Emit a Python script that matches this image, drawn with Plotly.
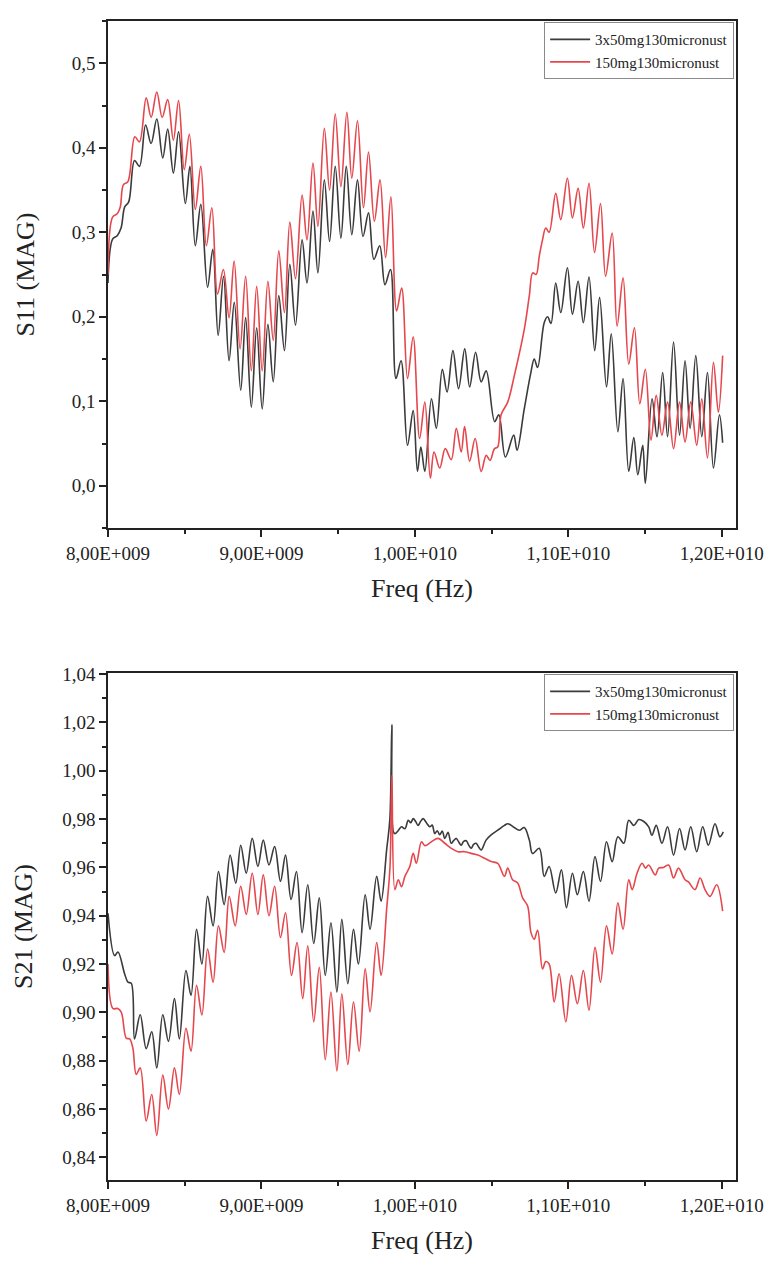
import plotly.graph_objects as go

# ---------------- data (frequency in GHz) ----------------
s11_black_f = [8.000, 8.030, 8.060, 8.085, 8.109, 8.135, 8.173, 8.205, 8.245, 8.281, 8.318, 8.357, 8.389, 8.426,
               8.460, 8.504, 8.534, 8.569, 8.605, 8.649, 8.683, 8.718, 8.753, 8.789, 8.823, 8.865, 8.897, 8.934,
               8.969, 9.005, 9.042, 9.077, 9.113, 9.150, 9.185, 9.222, 9.265, 9.297, 9.336, 9.368, 9.410, 9.444,
               9.481, 9.518, 9.553, 9.589, 9.626, 9.662, 9.698, 9.733, 9.771, 9.805, 9.841, 9.877, 9.910, 9.952,
               9.989, 10.017, 10.039, 10.065, 10.108, 10.140, 10.179, 10.210, 10.248, 10.285, 10.325, 10.357,
               10.396, 10.432, 10.465, 10.520, 10.547, 10.590, 10.644, 10.666, 10.713, 10.756, 10.778, 10.800,
               10.843, 10.865, 10.887, 10.918, 10.951, 10.994, 11.027, 11.064, 11.098, 11.135, 11.172, 11.204,
               11.249, 11.280, 11.323, 11.357, 11.394, 11.427, 11.453, 11.485, 11.502, 11.546, 11.578, 11.615,
               11.647, 11.686, 11.725, 11.761, 11.794, 11.831, 11.870, 11.907, 11.946, 11.985, 12.006]
s11_black_v = [0.240, 0.292, 0.296, 0.305, 0.330, 0.336, 0.385, 0.378, 0.427, 0.405, 0.434, 0.388, 0.422, 0.370,
               0.419, 0.334, 0.378, 0.284, 0.333, 0.235, 0.280, 0.178, 0.248, 0.148, 0.217, 0.113, 0.199, 0.093,
               0.187, 0.091, 0.191, 0.123, 0.225, 0.160, 0.262, 0.190, 0.291, 0.240, 0.325, 0.252, 0.362, 0.289,
               0.378, 0.293, 0.378, 0.297, 0.362, 0.295, 0.323, 0.268, 0.284, 0.238, 0.256, 0.127, 0.148, 0.048,
               0.089, 0.017, 0.046, 0.017, 0.103, 0.068, 0.138, 0.111, 0.160, 0.115, 0.162, 0.117,
               0.158, 0.123, 0.136, 0.076, 0.084, 0.034, 0.060, 0.042, 0.091, 0.134, 0.150, 0.140,
               0.193, 0.200, 0.192, 0.240, 0.205, 0.258, 0.203, 0.242, 0.193, 0.247, 0.160, 0.223,
               0.117, 0.180, 0.064, 0.127, 0.017, 0.057, 0.013, 0.048, 0.003, 0.103, 0.058, 0.134,
               0.058, 0.170, 0.060, 0.148, 0.068, 0.154, 0.058, 0.134, 0.021, 0.084, 0.051]

s11_red_f = [8.000, 8.030, 8.060, 8.080, 8.100, 8.130, 8.175, 8.205, 8.249, 8.281, 8.318, 8.353, 8.389, 8.426,
             8.460, 8.497, 8.530, 8.569, 8.605, 8.641, 8.677, 8.714, 8.752, 8.789, 8.822, 8.861, 8.897, 8.934,
             8.969, 9.005, 9.042, 9.077, 9.113, 9.150, 9.185, 9.222, 9.265, 9.297, 9.336, 9.368, 9.410, 9.444,
             9.481, 9.518, 9.557, 9.589, 9.626, 9.665, 9.698, 9.736, 9.773, 9.809, 9.844, 9.881, 9.914, 9.952,
             9.989, 10.031, 10.065, 10.101, 10.125, 10.162, 10.198, 10.237, 10.270, 10.302, 10.324, 10.357,
             10.393, 10.432, 10.465, 10.490, 10.519, 10.540, 10.562, 10.605, 10.649, 10.714, 10.746, 10.768,
             10.790, 10.811, 10.832, 10.853, 10.875, 10.918, 10.951, 10.994, 11.027, 11.064, 11.098, 11.135,
             11.171, 11.210, 11.243, 11.286, 11.318, 11.357, 11.394, 11.431, 11.466, 11.502, 11.539, 11.573,
             11.610, 11.647, 11.686, 11.725, 11.761, 11.798, 11.837, 11.870, 11.907, 11.946, 11.978, 12.006]
s11_red_v = [0.250, 0.318, 0.322, 0.330, 0.356, 0.360, 0.413, 0.407, 0.459, 0.436, 0.466, 0.436, 0.457, 0.409,
             0.456, 0.374, 0.416, 0.327, 0.378, 0.284, 0.329, 0.227, 0.256, 0.199, 0.266, 0.162, 0.248, 0.136,
             0.236, 0.136, 0.242, 0.172, 0.278, 0.205, 0.312, 0.245, 0.344, 0.291, 0.382, 0.307, 0.423, 0.350,
             0.440, 0.354, 0.442, 0.364, 0.432, 0.329, 0.395, 0.313, 0.362, 0.270, 0.342, 0.207, 0.234, 0.127,
             0.176, 0.056, 0.099, 0.009, 0.040, 0.021, 0.044, 0.031, 0.068, 0.040, 0.070, 0.029,
             0.056, 0.017, 0.036, 0.030, 0.044, 0.046, 0.084, 0.099, 0.131, 0.186, 0.225, 0.252,
             0.250, 0.272, 0.291, 0.305, 0.300, 0.346, 0.315, 0.364, 0.317, 0.352, 0.305, 0.358,
             0.276, 0.334, 0.248, 0.299, 0.189, 0.246, 0.144, 0.187, 0.097, 0.138, 0.054, 0.107,
             0.060, 0.099, 0.044, 0.099, 0.052, 0.099, 0.048, 0.103, 0.033, 0.146, 0.087, 0.154]

s21_black_f = [8.000, 8.043, 8.065, 8.108, 8.130, 8.152, 8.173, 8.210, 8.249, 8.285, 8.318, 8.357, 8.394, 8.433,
               8.465, 8.508, 8.541, 8.577, 8.612, 8.649, 8.685, 8.720, 8.757, 8.796, 8.833, 8.865, 8.901, 8.940,
               8.977, 9.012, 9.049, 9.086, 9.124, 9.157, 9.193, 9.228, 9.265, 9.302, 9.341, 9.377, 9.416, 9.453,
               9.492, 9.524, 9.563, 9.600, 9.632, 9.676, 9.708, 9.751, 9.780, 9.816, 9.837, 9.850, 9.859, 9.870,
               9.891, 9.913, 9.935, 9.957, 9.973, 9.989, 10.005, 10.021, 10.037, 10.054, 10.075, 10.097, 10.113,
               10.130, 10.146, 10.162, 10.179, 10.195, 10.216, 10.237, 10.254, 10.270, 10.286, 10.302, 10.318,
               10.335, 10.351, 10.367, 10.383, 10.399, 10.416, 10.432, 10.464, 10.497, 10.540, 10.584, 10.605,
               10.626, 10.648, 10.681, 10.713, 10.746, 10.767, 10.811, 10.843, 10.875, 10.918, 10.955, 10.988,
               11.027, 11.059, 11.098, 11.135, 11.174, 11.210, 11.249, 11.286, 11.323, 11.362, 11.394, 11.427,
               11.459, 11.492, 11.524, 11.545, 11.573, 11.610, 11.647, 11.686, 11.725, 11.761, 11.798, 11.837,
               11.876, 11.913, 11.956, 11.988, 12.010]
s21_black_v = [0.9410, 0.9235, 0.9250, 0.9160, 0.9125, 0.9120, 0.8890, 0.8990, 0.8850, 0.8920, 0.8770, 0.8990,
               0.8880, 0.9057, 0.8890, 0.9173, 0.9070, 0.9344, 0.9200, 0.9480, 0.9358, 0.9583, 0.9446, 0.9651,
               0.9535, 0.9692, 0.9576, 0.9720, 0.9604, 0.9713, 0.9610, 0.9686, 0.9542, 0.9651, 0.9467, 0.9583,
               0.9330, 0.9528, 0.9285, 0.9474, 0.9153, 0.9371, 0.9084, 0.9385, 0.9119, 0.9344, 0.9200, 0.9487,
               0.9344, 0.9563, 0.9460, 0.9672, 0.9800, 1.0190, 0.9750, 0.9740, 0.9752, 0.9768, 0.9760, 0.9795,
               0.9785, 0.9802, 0.9790, 0.9774, 0.9790, 0.9802, 0.9785, 0.9768, 0.9775, 0.9740, 0.9752, 0.9735,
               0.9750, 0.9720, 0.9745, 0.9700, 0.9712, 0.9720, 0.9705, 0.9692, 0.9708, 0.9710, 0.9692, 0.9679,
               0.9695, 0.9700, 0.9684, 0.9672, 0.9713, 0.9735, 0.9754, 0.9774, 0.9781, 0.9775, 0.9765, 0.9754,
               0.9765, 0.9713, 0.9658, 0.9679, 0.9563, 0.9604, 0.9494, 0.9590, 0.9433, 0.9576, 0.9487, 0.9583,
               0.9460, 0.9645, 0.9542, 0.9706, 0.9624, 0.9727, 0.9700, 0.9795, 0.9774, 0.9798, 0.9790, 0.9768,
               0.9733, 0.9774, 0.9700, 0.9768, 0.9651, 0.9761, 0.9672, 0.9768, 0.9665, 0.9768, 0.9692, 0.9781,
               0.9727, 0.9747]

s21_red_f = [8.000, 8.032, 8.063, 8.087, 8.119, 8.141, 8.162, 8.184, 8.210, 8.249, 8.285, 8.318, 8.357, 8.394,
             8.433, 8.465, 8.508, 8.541, 8.577, 8.612, 8.649, 8.685, 8.720, 8.757, 8.790, 8.829, 8.865, 8.901,
             8.940, 8.977, 9.012, 9.049, 9.086, 9.124, 9.157, 9.196, 9.232, 9.269, 9.302, 9.341, 9.377, 9.416,
             9.453, 9.492, 9.524, 9.563, 9.600, 9.637, 9.676, 9.708, 9.751, 9.780, 9.816, 9.838, 9.850, 9.870,
             9.892, 9.913, 9.935, 9.967, 9.989, 10.010, 10.043, 10.065, 10.108, 10.151, 10.195, 10.237, 10.281,
             10.324, 10.367, 10.410, 10.454, 10.497, 10.540, 10.584, 10.605, 10.637, 10.670, 10.702, 10.735,
             10.757, 10.778, 10.800, 10.832, 10.853, 10.875, 10.908, 10.940, 10.984, 11.021, 11.059, 11.098,
             11.135, 11.174, 11.210, 11.249, 11.286, 11.323, 11.357, 11.394, 11.416, 11.448, 11.481, 11.503,
             11.524, 11.567, 11.589, 11.620, 11.654, 11.686, 11.718, 11.761, 11.783, 11.826, 11.859, 11.891,
             11.924, 11.967, 12.006]
s21_red_v = [0.9200, 0.9016, 0.9016, 0.9000, 0.8893, 0.8890, 0.8852, 0.8743, 0.8770, 0.8550, 0.8660, 0.8490,
             0.8740, 0.8600, 0.8770, 0.8660, 0.8934, 0.8839, 0.9112, 0.8989, 0.9262, 0.9125, 0.9358, 0.9248,
             0.9480, 0.9358, 0.9522, 0.9405, 0.9576, 0.9405, 0.9569, 0.9400, 0.9522, 0.9310, 0.9412, 0.9153,
             0.9289, 0.9057, 0.9276, 0.8961, 0.9187, 0.8804, 0.9084, 0.8757, 0.9077, 0.8784, 0.9043, 0.8839,
             0.9180, 0.9002, 0.9289, 0.9153, 0.9426, 0.9604, 0.9980, 0.9508, 0.9549, 0.9520, 0.9563, 0.9604,
             0.9658, 0.9617, 0.9706, 0.9690, 0.9706, 0.9720, 0.9700, 0.9679, 0.9665, 0.9665, 0.9658, 0.9651,
             0.9638, 0.9624, 0.9617, 0.9563, 0.9597, 0.9549, 0.9535, 0.9474, 0.9440, 0.9330, 0.9303, 0.9340,
             0.9180, 0.9210, 0.9200, 0.9043, 0.9160, 0.8961, 0.9153, 0.9036, 0.9173, 0.9009, 0.9269, 0.9125,
             0.9358, 0.9242, 0.9453, 0.9344, 0.9549, 0.9508, 0.9576, 0.9617, 0.9597, 0.9610, 0.9569, 0.9597,
             0.9600, 0.9610, 0.9556, 0.9597, 0.9549, 0.9540, 0.9508, 0.9556, 0.9508, 0.9480, 0.9528, 0.9419]

series_names = ["3x50mg130micronust", "150mg130micronust"]

x_tickvals = [8, 9, 10, 11, 12]
x_ticktext = ["8,00E+009", "9,00E+009", "1,00E+010", "1,10E+010", "1,20E+010"]
s11_tickvals = [0.0, 0.1, 0.2, 0.3, 0.4, 0.5]
s11_ticktext = ["0,0", "0,1", "0,2", "0,3", "0,4", "0,5"]
s21_tickvals = [0.84, 0.86, 0.88, 0.90, 0.92, 0.94, 0.96, 0.98, 1.00, 1.02, 1.04]
s21_ticktext = ["0,84", "0,86", "0,88", "0,90", "0,92", "0,94", "0,96", "0,98", "1,00", "1,02", "1,04"]

# ---------------- styles ----------------
BLACK = "#3b3b3b"
RED = "#e5474d"
FONT = "Liberation Serif, Times New Roman, serif"
AX = "#222222"

fig = go.Figure()
fig.add_trace(go.Scatter(x=s11_black_f, y=s11_black_v, name=series_names[0], mode="lines",
                         line=dict(color=BLACK, width=1.6, shape="spline", smoothing=1.0),
                         xaxis="x", yaxis="y", legend="legend"))
fig.add_trace(go.Scatter(x=s11_red_f, y=s11_red_v, name=series_names[1], mode="lines",
                         line=dict(color=RED, width=1.6, shape="spline", smoothing=1.0),
                         xaxis="x", yaxis="y", legend="legend"))
fig.add_trace(go.Scatter(x=s21_black_f, y=s21_black_v, name=series_names[0], mode="lines",
                         line=dict(color=BLACK, width=1.6, shape="spline", smoothing=1.0),
                         xaxis="x2", yaxis="y2", legend="legend2"))
fig.add_trace(go.Scatter(x=s21_red_f, y=s21_red_v, name=series_names[1], mode="lines",
                         line=dict(color=RED, width=1.6, shape="spline", smoothing=1.0),
                         xaxis="x2", yaxis="y2", legend="legend2"))

axis_common = dict(showline=True, linecolor=AX, linewidth=1.5, mirror=True, showgrid=False,
                   zeroline=False, ticks="outside", ticklen=7, tickwidth=1.5, tickcolor=AX,
                   tickfont=dict(family=FONT, size=19, color=AX))

xaxis_common = dict(axis_common, range=[8, 12.093], tickmode="array", tickvals=x_tickvals,
                    ticktext=x_ticktext,
                    minor=dict(tickmode="linear", tick0=8, dtick=0.5, ticks="outside", ticklen=4,
                               tickwidth=1.5, tickcolor=AX),
                    title=dict(text="Freq (Hz)", font=dict(family=FONT, size=26, color=AX),
                               standoff=16))

legend_common = dict(font=dict(family=FONT, size=15, color=AX), bgcolor="rgba(255,255,255,0)",
                     bordercolor="#8a8a8a", borderwidth=1, xanchor="right", yanchor="top",
                     tracegroupgap=0, itemwidth=40)

fig.update_layout(
    width=776, height=1264,
    margin=dict(l=108, r=37, t=12, b=84),
    paper_bgcolor="white", plot_bgcolor="white",
    showlegend=True,
    xaxis=dict(xaxis_common, anchor="y", domain=[0, 1]),
    xaxis2=dict(xaxis_common, anchor="y2", domain=[0, 1]),
    yaxis=dict(axis_common, anchor="x", domain=[0.5625, 1.0], range=[-0.05, 0.55],
               tickmode="array", tickvals=s11_tickvals, ticktext=s11_ticktext,
               minor=dict(tickmode="linear", tick0=0, dtick=0.05, ticks="outside", ticklen=4,
                          tickwidth=1.5, tickcolor=AX),
               title=dict(text="S11 (MAG)", font=dict(family=FONT, size=26, color=AX), standoff=30)),
    yaxis2=dict(axis_common, anchor="x2", domain=[0, 0.4375], range=[0.8306, 1.0405],
                tickmode="array", tickvals=s21_tickvals, ticktext=s21_ticktext,
                minor=dict(tickmode="linear", tick0=0.84, dtick=0.01, ticks="outside", ticklen=4,
                           tickwidth=1.5, tickcolor=AX),
                title=dict(text="S21 (MAG)", font=dict(family=FONT, size=26, color=AX), standoff=22)),
    legend=dict(legend_common, x=0.997, y=0.999),
    legend2=dict(legend_common, x=0.997, y=0.4365),
    hovermode=False,
)

fig.write_html("out.html")
